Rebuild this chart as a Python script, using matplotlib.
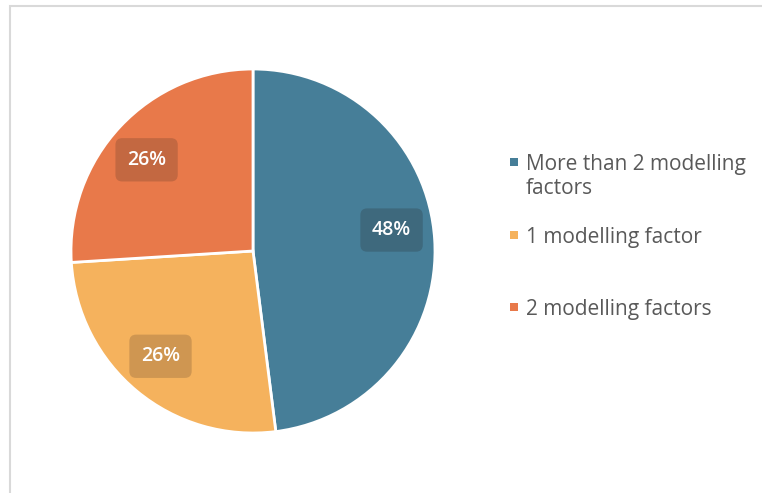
import numpy as np
import matplotlib.pyplot as plt
from matplotlib.patches import Rectangle

categories = ["More than 2 modelling\nfactors", "1 modelling factor", "2 modelling factors"]
shares = [48, 26, 26]
colors = ["#467e98", "#f5b25d", "#e8794a"]
label_boxes = ["#3d6679", "#c9924f", "#bd6540"]

plt.rcParams["font.family"] = ["Open Sans", "DejaVu Sans"]

fig = plt.figure(figsize=(7.62, 4.93), dpi=100)
W, H = 762, 493

# thin frame around the chart area (runs off the right and bottom)
fig.patches.append(Rectangle((10 / W, -0.1), 1.2, 1.1 - 6 / H, transform=fig.transFigure,
                             fill=False, edgecolor="#d9d9d9", linewidth=1.5))

cx, cy, r = 253, 251, 182
ax = fig.add_axes([(cx - r) / W, 1 - (cy + r) / H, 2 * r / W, 2 * r / H])
wedges, _ = ax.pie(shares, colors=colors, startangle=90, counterclock=False,
                   wedgeprops=dict(edgecolor="white", linewidth=2))
ax.set_xlim(-1, 1)
ax.set_ylim(-1, 1)
ax.set_aspect("equal")

# small angular nudges (deg) so the data labels sit like best-fit labels
nudge = [5, -1.7, 2.6]
for w, val, bc, dn in zip(wedges, shares, label_boxes, nudge):
    mid = np.deg2rad((w.theta1 + w.theta2) / 2 + dn)
    ax.text(0.77 * np.cos(mid), 0.77 * np.sin(mid), f"{val}%", ha="center", va="center",
            color="white", fontsize=14, fontweight="semibold",
            bbox=dict(boxstyle="round,pad=0.6,rounding_size=0.35", facecolor=bc,
                      edgecolor="none", alpha=0.85))

# legend entries, one text per line
legend_y = [162, 235, 307]
for lab, col, y in zip(categories, colors, legend_y):
    fig.patches.append(Rectangle((510 / W, 1 - (y + 4) / H), 8 / W, 8 / H,
                                 transform=fig.transFigure, facecolor=col, edgecolor="none"))
    for i, line in enumerate(lab.split("\n")):
        fig.text(526 / W, 1 - (y + 24 * i) / H, line, ha="left", va="center_baseline",
                 fontsize=15, color="#595959")

fig.savefig("out.png", dpi=100)
